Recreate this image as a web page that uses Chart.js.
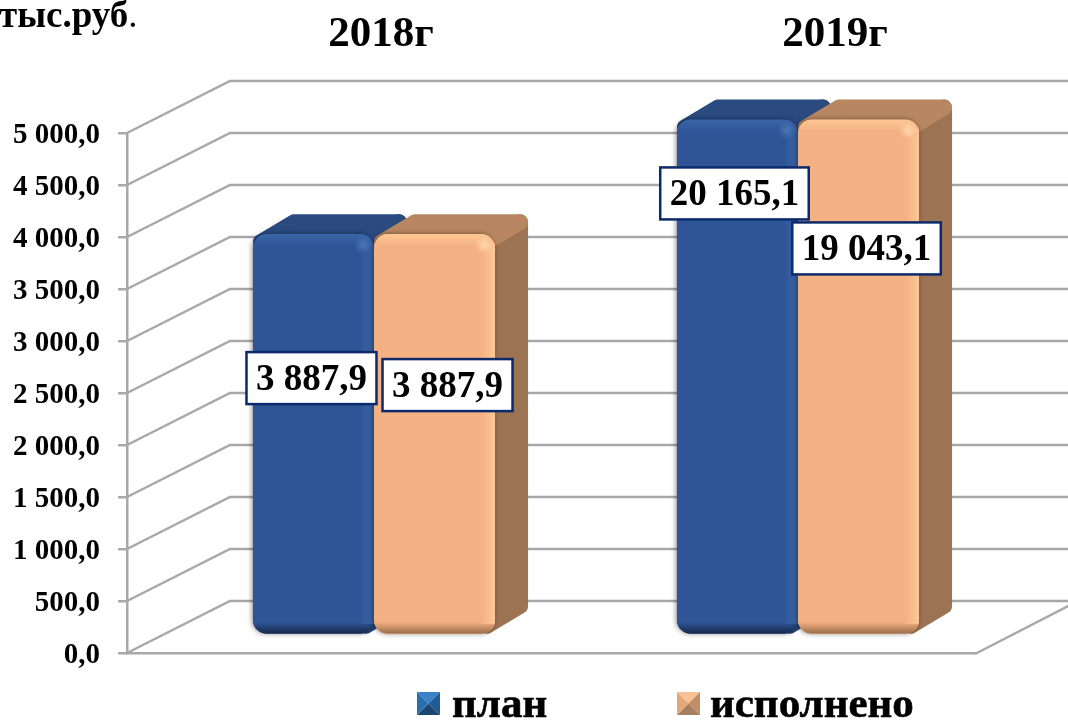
<!DOCTYPE html>
<html lang="ru">
<head>
<meta charset="utf-8">
<title>План и исполнение</title>
<script src="https://cdn.jsdelivr.net/npm/chart.js@4"></script>
<style>
    html, body { margin: 0; padding: 0; background: #fff; overflow: hidden; }
    canvas { display: block; }
</style>
</head>
<body>
<canvas id="planChart" width="1068" height="721"></canvas>
<script>
// ====== Datos ======
const years = ['2018г', '2019г'];
const seriesNames = ['план', 'исполнено'];
const plan = [3887.9, 20165.1];
const done = [3887.9, 19043.1];
const axisMax = 5000;
const axisStep = 500;
const unitLabel = 'тыс.руб';

// ====== Estilo ======
const SERIF = '"Liberation Serif", serif';
const GRID = '#a8a8a8';
const themes = [
    { front: '#2f5597', side: '#264478', top: '#2a4a80', light: '#4a76b8', dark: '#16284c', edge: '#3a66a8' },
    { front: '#f4b183', side: '#9c7353', top: '#b88660', light: '#ffd8ac', dark: '#9a6c48', edge: '#fdc793' }
];
const wall = { dx: 103, dy: -52 };
const barPlane = { dx: 35, bottom: 635, k: 0.9915 };
const depth = { dx: 33, dy: -20 };
const barRadius = 14;
const titleShift = [42, 72];
// cajas de etiquetas: centro relativo a la barra [serie][categoria]
const labelShift = [[[-2, 144], [-3, 74]], [[13, 151], [8, 129]]];

function fmt(v) {
    const [a, b] = v.toFixed(1).split('.');
    return a.replace(/\B(?=(\d{3})+$)/g, ' ') + ',' + b;
}

function roundRectPath(c, x, y, w, h, r) {
    c.beginPath();
    c.roundRect(x, y, w, h, r);
}

// caras laterales y superior de la barra
function drawDepth(c, bar, theme) {
    const half = bar.width / 2, inset = 8;
    const l = bar.x - half + inset, r = bar.x + half - inset, t = bar.y + inset, b = bar.base - inset;
    const d = depth;
    c.save();
    c.lineJoin = 'round';
    c.lineWidth = inset * 2;
    c.fillStyle = c.strokeStyle = theme.side;
    c.beginPath();
    c.moveTo(r, t);
    c.lineTo(r + d.dx, t + d.dy);
    c.lineTo(r + d.dx, b + d.dy);
    c.lineTo(r, b);
    c.closePath();
    c.fill();
    c.stroke();
    c.fillStyle = c.strokeStyle = theme.top;
    c.beginPath();
    c.moveTo(l, t);
    c.lineTo(l + d.dx, t + d.dy);
    c.lineTo(r + d.dx, t + d.dy);
    c.lineTo(r, t);
    c.closePath();
    c.fill();
    c.stroke();
    c.restore();
}

// biselado sobre la cara frontal
function drawBevel(c, bar, theme) {
    const half = bar.width / 2;
    const l = bar.x - half, r = bar.x + half, t = bar.y, b = bar.base;
    c.save();
    roundRectPath(c, l, t, r - l, b - t, barRadius);
    c.clip();
    let g = c.createLinearGradient(0, t, 0, t + 12);
    g.addColorStop(0, theme.edge);
    g.addColorStop(1, theme.front);
    c.fillStyle = g;
    c.fillRect(l, t, r - l, 12);
    g = c.createLinearGradient(0, b - 12, 0, b);
    g.addColorStop(0, theme.front);
    g.addColorStop(1, theme.dark);
    c.fillStyle = g;
    c.fillRect(l, b - 12, r - l, 12);
    g = c.createLinearGradient(r - 14, 0, r, 0);
    g.addColorStop(0, theme.front);
    g.addColorStop(1, theme.edge);
    c.fillStyle = g;
    c.fillRect(r - 14, t + 8, 14, b - t - 18);
    g = c.createRadialGradient(r - 11, t + 11, 0, r - 11, t + 11, 9);
    g.addColorStop(0, theme.light);
    g.addColorStop(1, theme.light + '00');
    c.fillStyle = g;
    c.fillRect(r - 22, t, 22, 22);
    c.restore();
}

function drawLegendBox(c, x, y, size, colors) {
    const cx = x + size / 2, cy = y + size / 2;
    const pts = [[x, y], [x + size, y], [x + size, y + size], [x, y + size]];
    colors.forEach((col, i) => {
        const p = pts[i], q = pts[(i + 1) % 4];
        c.fillStyle = col;
        c.beginPath();
        c.moveTo(p[0], p[1]);
        c.lineTo(q[0], q[1]);
        c.lineTo(cx, cy);
        c.closePath();
        c.fill();
    });
}

// ====== Plugin 3D ======
const wallPlugin = {
    id: 'wallPlugin',
    // las barras de 2019 salen del eje: se cortan en el maximo
    afterDatasetsUpdate(chart) {
        const top = chart.scales.y.getPixelForValue(axisMax);
        chart.data.datasets.forEach((ds, i) => {
            chart.getDatasetMeta(i).data.forEach(bar => {
                if (bar.y < top) {
                    bar.height -= top - bar.y;
                    bar.y = top;
                }
            });
        });
    },
    beforeDatasetsDraw(chart) {
        const c = chart.ctx, yS = chart.scales.y, area = chart.chartArea;
        c.save();
        c.strokeStyle = GRID;
        c.lineWidth = 2.5;
        yS.ticks.forEach(t => {
            const y = yS.getPixelForValue(t.value);
            c.beginPath();
            c.moveTo(area.left, y);
            c.lineTo(area.left + wall.dx, y + wall.dy);
            c.lineTo(area.right + wall.dx, y + wall.dy);
            c.stroke();
        });
        c.beginPath();
        c.moveTo(area.right, area.bottom + 1);
        c.lineTo(area.right + wall.dx, area.bottom + wall.dy);
        c.stroke();
        c.restore();
    },
    beforeDatasetDraw() {
        return false;
    },
    afterDatasetsDraw(chart) {
        const c = chart.ctx, base = chart.scales.y.getPixelForValue(0);
        c.save();
        c.translate(barPlane.dx, barPlane.bottom);
        c.scale(1, barPlane.k);
        c.translate(0, -base);
        chart.data.datasets.forEach((ds, i) => {
            const bars = chart.getDatasetMeta(i).data;
            bars.forEach(bar => drawDepth(c, bar, themes[i]));
            bars.forEach(bar => {
                // sombra suave sobre la barra vecina
                c.save();
                c.shadowColor = 'rgba(0,0,0,0.45)';
                c.shadowBlur = 5;
                c.shadowOffsetX = -1;
                bar.draw(c);
                c.restore();
                drawBevel(c, bar, themes[i]);
            });
        });
        c.restore();

        // ====== Etiquetas ======
        chart.data.datasets.forEach((ds, i) => {
            chart.getDatasetMeta(i).data.forEach((bar, j) => {
                const sy = barPlane.bottom + (bar.y - base) * barPlane.k;
                const cx = bar.x + barPlane.dx + labelShift[i][j][0];
                const cy = sy + labelShift[i][j][1];
                const text = fmt(ds.data[j]);
                c.font = 'bold 37px ' + SERIF;
                const w = c.measureText(text).width + 19;
                c.fillStyle = '#fff';
                c.strokeStyle = '#0b2a6b';
                c.lineWidth = 2.5;
                c.fillRect(cx - w / 2, cy - 26, w, 52);
                c.strokeRect(cx - w / 2, cy - 26, w, 52);
                c.fillStyle = '#000';
                c.textAlign = 'center';
                c.textBaseline = 'middle';
                c.fillText(text, cx, cy + 2);
            });
        });

        // ====== Titulos ======
        const xS = chart.scales.x;
        c.fillStyle = '#000';
        c.textAlign = 'center';
        c.textBaseline = 'alphabetic';
        c.font = 'bold 43px ' + SERIF;
        years.forEach((year, i) => {
            c.fillText(year, xS.getPixelForTick(i) + titleShift[i], 46);
        });

        // ====== Unidad ======
        c.textAlign = 'left';
        c.font = 'bold 37px ' + SERIF;
        c.fillText(unitLabel, -1, 27);
        const unitW = c.measureText(unitLabel).width;
        c.font = '37px ' + SERIF;
        c.fillText('.', unitW - 1, 27);

        // ====== Leyenda ======
        const boxX = [417, 677], textX = [452, 710];
        const boxColors = [
            ['#3b82c9', '#1f5b97', '#1c4672', '#2a6fae'],
            ['#f9c195', '#c08f65', '#a57e5b', '#e4a878']
        ];
        c.font = 'bold 43px ' + SERIF;
        c.textBaseline = 'alphabetic';
        seriesNames.forEach((name, i) => {
            drawLegendBox(c, boxX[i], 692, 23, boxColors[i]);
            c.fillStyle = '#000';
            c.strokeStyle = '#000';
            c.lineWidth = 0.6;
            c.fillText(name, textX[i], 717);
            c.strokeText(name, textX[i], 717);
        });
    }
};

// ====== Grafico ======
const ctxPlan = document.getElementById('planChart').getContext('2d');
const planChart = new Chart(ctxPlan, {
    type: 'bar',
    data: {
        labels: years,
        datasets: [plan, done].map((values, i) => ({
            label: seriesNames[i],
            data: values,
            backgroundColor: themes[i].front,
            borderWidth: 0,
            borderSkipped: false,
            borderRadius: barRadius,
            categoryPercentage: 0.571,
            barPercentage: 1
        }))
    },
    options: {
        responsive: false,
        animation: false,
        layout: { padding: { top: 133, right: 93, bottom: 68, left: 0 } },
        plugins: { legend: { display: false }, tooltip: { enabled: false } },
        scales: {
            x: {
                ticks: { display: false },
                grid: { display: false },
                border: { color: GRID, width: 2.5 },
                afterFit: scale => { scale.height = 0; }
            },
            y: {
                min: 0,
                max: axisMax,
                ticks: {
                    stepSize: axisStep,
                    padding: 18,
                    labelOffset: 3,
                    color: '#000',
                    font: { family: SERIF, size: 29, weight: 'bold' },
                    callback: v => fmt(v)
                },
                grid: { drawOnChartArea: false, tickLength: 9, color: GRID, lineWidth: 2.5 },
                border: { color: GRID, width: 2.5 },
                afterFit: scale => { scale.width = 127; }
            }
        }
    },
    plugins: [wallPlugin]
});
</script>
</body>
</html>
